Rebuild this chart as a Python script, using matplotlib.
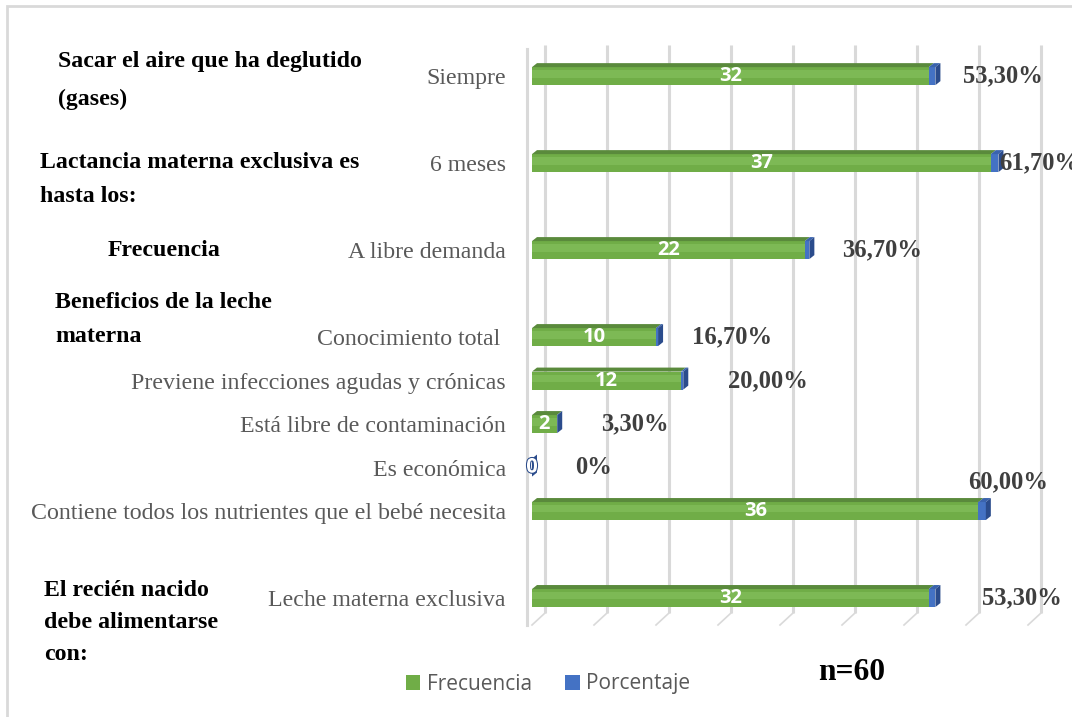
import matplotlib
matplotlib.use("Agg")
import matplotlib.pyplot as plt
from matplotlib.patches import Polygon, Patch, Rectangle
from matplotlib.transforms import ScaledTranslation
import matplotlib.patheffects as pe

# ---- data (bottom to top; empty strings are spacer rows) ----
categories = [
    "Leche materna exclusiva",
    "",
    "Contiene todos los nutrientes que el bebé necesita",
    "Es económica",
    "Está libre de contaminación",
    "Previene infecciones agudas y crónicas",
    "Conocimiento total ",
    "",
    "A libre demanda",
    "",
    "6 meses",
    "",
    "Siempre",
]
frecuencia = [32, None, 36, 0, 2, 12, 10, None, 22, None, 37, None, 32]
porcentaje = [53.3, None, 60.0, 0.0, 3.3, 20.0, 16.7, None, 36.7, None, 61.7, None, 53.3]
pct_labels = ["53,30%", None, "60,00%", "0%", "3,30%", "20,00%", "16,70%", None,
              "36,70%", None, "61,70%", None, "53,30%"]

groups = [
    (["Sacar el aire que ha deglutido", "(gases)"], 58, [61, 99]),
    (["Lactancia materna exclusiva es", "hasta los:"], 40, [163, 196]),
    (["Frecuencia"], 108, [251]),
    (["Beneficios de la leche", "materna"], 55, [303, 336]),
    (["El recién nacido", "debe alimentarse", "con:"], 44, [590, 622, 655]),
]

# label placement (pixels from the end of each bar)
label_dx = [42, 0, -23, 38, 39, 40, 29, 0, 28, 0, -4, 0, 23]
label_dy = [0, 0, 29, 0, 0, 0, 0, 0, 0, 0, 0, 0, 0]

GREEN = "#70ad47"
GREEN_LIGHT = "#7db955"
GREEN_TOP = "#5a8a3c"
BLUE = "#4472c4"
BLUE_TOP = "#3a63ad"
BLUE_SIDE = "#2b4c8c"
GRID = "#d9d9d9"
LABEL_GRAY = "#595959"
VALUE_GRAY = "#3f3f3f"

W, H, DPI = 1072, 717, 100
fig = plt.figure(figsize=(W / DPI, H / DPI), dpi=DPI)

ax_left, ax_right = 532, 1028
ax_top, ax_bottom = 57, 625
ax = fig.add_axes([ax_left / W, 1 - ax_bottom / H,
                   (ax_right - ax_left) / W, (ax_bottom - ax_top) / H])
ax.set_xlim(0, 40)
ax.set_ylim(-0.62, 12.44)
for s in ax.spines.values():
    s.set_visible(False)
ax.set_xticks([])

px_x = (ax_right - ax_left) / 40.0        # pixels per x unit
px_y = (ax_bottom - ax_top) / (12.44 + 0.62)  # pixels per row

# back wall gridlines and floor lines
back_dx, back_dy = 13, 12
back = ax.transData + ScaledTranslation(back_dx / DPI, back_dy / DPI, fig.dpi_scale_trans)
y_lo, y_hi = -0.62, 12.44
for gx in range(0, 41, 5):
    ax.plot([gx, gx], [y_lo, y_hi], color=GRID, lw=2.2, transform=back,
            clip_on=False, zorder=0, solid_capstyle="butt")
    ax.plot([gx + back_dx / px_x, gx], [y_lo + back_dy / px_y, y_lo], color=GRID,
            lw=1.2, clip_on=False, zorder=0)
ax.plot([-5 / px_x, -5 / px_x], [y_lo, y_hi + 0.18], color=GRID, lw=2.2,
        clip_on=False, zorder=0)

# bars with a shallow 3-D look
h = 18 / px_y
ddx, ddy = 5 / px_x, 4 / px_y
rows = [i for i, v in enumerate(frecuencia) if v is not None]
vals = [frecuencia[i] for i in rows]
pcts = [porcentaje[i] / 100.0 for i in rows]
ax.barh(rows, vals, height=h, color=GREEN, zorder=3)
ax.barh([r + h * 0.12 for r in rows], vals, height=h * 0.4, color=GREEN_LIGHT, zorder=3)
ax.barh(rows, pcts, left=vals, height=h, color=BLUE, zorder=3)

for i, v, p in zip(rows, vals, pcts):
    top = i + h / 2
    bot = i - h / 2
    end = v + p
    ax.add_patch(Polygon([(0, top), (v, top), (v + ddx, top + ddy), (ddx, top + ddy)],
                         closed=True, color=GREEN_TOP, zorder=3, lw=0))
    ax.add_patch(Polygon([(v, top), (end, top), (end + ddx, top + ddy), (v + ddx, top + ddy)],
                         closed=True, color=BLUE_TOP, zorder=3, lw=0))
    ax.add_patch(Polygon([(end, bot), (end, top), (end + ddx, top + ddy), (end + ddx, bot + ddy)],
                         closed=True, color=BLUE_SIDE, zorder=3, lw=0))
    # count inside the bar
    t = ax.text(v / 2, i, f"{v}", ha="center", va="center", color="white",
                fontfamily="Open Sans", fontweight="bold", fontsize=14.5, zorder=5)
    if v == 0:
        t.set_path_effects([pe.withStroke(linewidth=1.5, foreground=BLUE_SIDE)])
    # percentage label
    ax.annotate(pct_labels[i], xy=(end, i), xytext=(label_dx[i] + 5, label_dy[i]),
                textcoords="offset pixels", ha="left", va="center",
                fontfamily="Liberation Serif", fontweight="bold", fontsize=17.7,
                color=VALUE_GRAY, zorder=6, annotation_clip=False)

# category labels
ax.set_yticks(range(len(categories)))
ax.set_yticklabels(categories, fontfamily="Liberation Serif", fontsize=17.2, color=LABEL_GRAY)
ax.tick_params(axis="y", length=0, pad=26 * 72 / DPI)

# group headings
for lines, x, ys in groups:
    for line, y in zip(lines, ys):
        fig.text(x / W, 1 - y / H, line, ha="left", va="center",
                 fontfamily="Liberation Serif", fontweight="bold", fontsize=17.2,
                 color="black")

# legend
handles = [Patch(facecolor=GREEN, edgecolor="none", label="Frecuencia"),
           Patch(facecolor=BLUE, edgecolor="none", label="Porcentaje")]
leg = fig.legend(handles=handles, loc="center", bbox_to_anchor=(548 / W, 1 - 684 / H),
                 ncol=2, frameon=False, handlelength=0.7, handleheight=0.7,
                 handletextpad=0.3, columnspacing=1.6,
                 prop={"family": "Open Sans", "size": 15})
for txt in leg.get_texts():
    txt.set_color(LABEL_GRAY)

fig.text(852 / W, 1 - 672 / H, "n=60", ha="center", va="center",
         fontfamily="Liberation Serif", fontweight="bold", fontsize=22.7, color="black")

# outer frame
fig.patches.append(Rectangle((7 / W, -0.05), 1.1, 1 - 6 / H + 0.05,
                             transform=fig.transFigure, fill=False,
                             edgecolor=GRID, lw=2, zorder=0))

fig.savefig("out.png", dpi=DPI)
